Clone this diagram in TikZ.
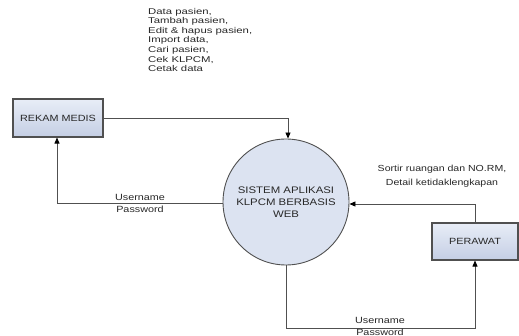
\documentclass[tikz,border=0pt]{standalone}
\usepackage{fontspec}
\setmainfont{Liberation Sans}
\newfontfamily\lblfont[FakeStretch=1.2]{Liberation Sans}
\newfontfamily\topfont[FakeStretch=1.35]{Liberation Sans}
\usetikzlibrary{arrows.meta}
\definecolor{boxtop}{RGB}{232,237,247}
\definecolor{boxbot}{RGB}{196,206,228}
\definecolor{circfill}{RGB}{220,227,241}
\definecolor{edgecol}{RGB}{80,80,80}
\definecolor{linecol}{RGB}{80,80,80}
\definecolor{txtcol}{RGB}{40,40,40}
\tikzset{
  entity/.style={draw=edgecol, line width=1.1pt, top color=boxtop, bottom color=boxbot,
    font=\lblfont\fontsize{9}{11}\selectfont, text=txtcol, inner sep=0pt},
  process/.style={circle, draw=edgecol, line width=0.9pt, fill=circfill,
    minimum size=126pt, inner sep=0pt, align=center,
    font=\lblfont\fontsize{9.5}{12}\selectfont, text=txtcol},
  flow/.style={draw=linecol, line width=0.8pt, -{Triangle[length=6pt,width=5pt,color=black]}},
  lbl/.style={font=\lblfont\fontsize{9}{12}\selectfont, text=txtcol, align=center, inner sep=0pt},
}
\begin{document}
\begin{tikzpicture}[x=1pt,y=-1pt]
\useasboundingbox[fill=white] (0,0) rectangle (519,336);
% nodes
\node[entity, minimum width=90pt, minimum height=38pt] (rm) at (58,118) {REKAM MEDIS};
\node[entity, minimum width=86pt, minimum height=37pt] (pr) at (475,241.5) {PERAWAT};
\node[process] (sys) at (286,202) {SISTEM APLIKASI\\KLPCM BERBASIS\\WEB};
% corner coordinates
\coordinate (c1) at (288,118);
\coordinate (c2) at (57,203);
\coordinate (c3) at (475,204);
\coordinate (c4) at (286,328);
\coordinate (c5) at (475,328);
% flows
\draw[flow] (rm.east |- c1) -- (c1) -- (sys.north -| c1);
\draw[flow] (sys.west |- c2) -- (c2) -- (rm.south -| c2);
\draw[flow] (pr.north -| c3) -- (c3) -- (sys.east |- c3);
\draw[flow] (sys.south -| c4) -- (c4) -- (c5) -- (pr.south -| c5);
% labels
\node[font=\topfont\fontsize{8.4}{9.55}\selectfont, text=txtcol, align=left, inner sep=0pt, anchor=north west] (tl) at (148,8)
  {Data pasien,\\Tambah pasien,\\Edit \& hapus pasien,\\Import data,\\Cari pasien,\\Cek KLPCM,\\Cetak data};
\node[lbl] (l1) at (140,203.5) {Username\\Password};
\node[lbl, font=\lblfont\fontsize{8.8}{14}\selectfont] (l2) at (442,176) {Sortir ruangan dan NO.RM,\\Detail ketidaklengkapan};
\node[lbl] (l3) at (380,326) {Username\\Password};
\end{tikzpicture}
\end{document}
